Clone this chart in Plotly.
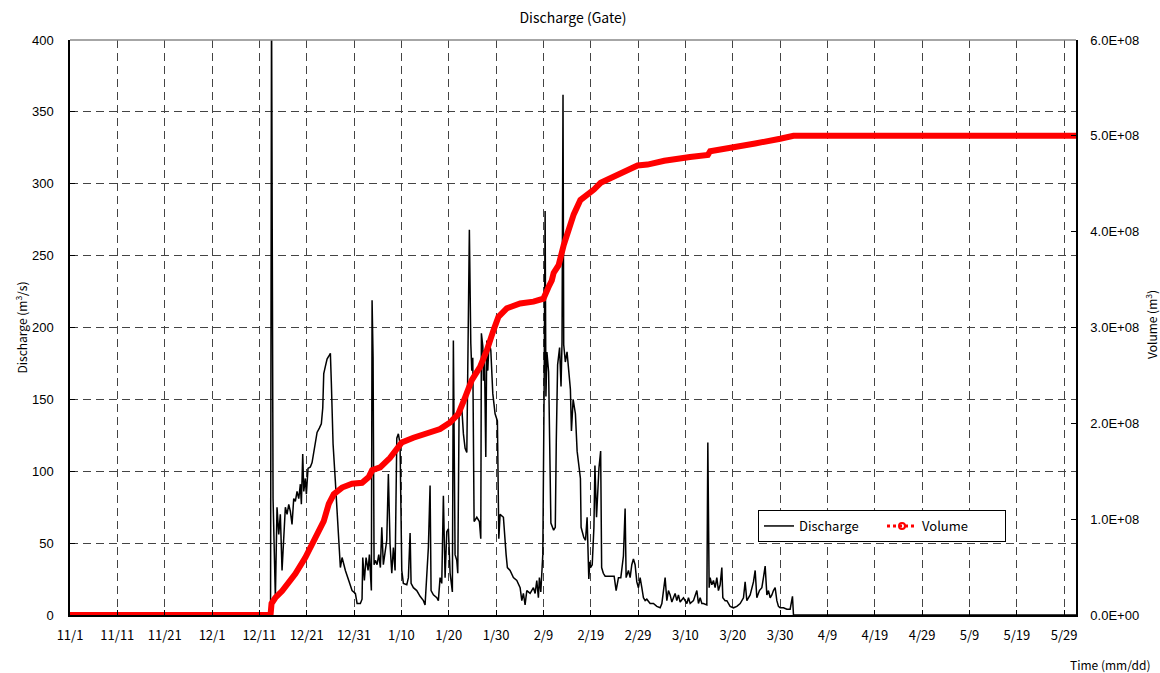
import pandas as pd
import plotly.graph_objects as go

# ---------------- data ----------------
start_date = "2023-11-01"

# discharge (m3/s) : days after 11/1 and value
discharge_days = [
    0.0, 42.36, 42.57, 42.78, 42.89, 43.38, 43.73, 44.09, 44.43, 44.79, 45.15, 45.49, 45.85, 46.21,
    46.55, 46.90, 47.26, 47.60, 47.96, 48.32, 48.66, 48.87, 49.16, 49.38, 49.71, 49.93, 50.28, 50.77,
    51.13, 51.70, 52.19, 52.67, 53.09, 53.39, 53.60, 53.94, 54.30, 54.66, 55.00, 55.21, 55.57, 56.05,
    56.77, 57.11, 57.47, 58.17, 58.88, 59.58, 60.28, 60.64, 61.33, 61.69, 61.84, 62.18, 62.54, 62.96,
    63.24, 63.66, 63.81, 64.02, 64.23, 64.50, 64.86, 65.22, 65.56, 65.86, 66.19, 66.91, 67.25, 67.61,
    67.97, 68.31, 68.67, 69.03, 69.36, 69.72, 70.08, 70.42, 71.14, 71.48, 71.84, 72.05, 72.53, 73.25,
    73.95, 74.65, 75.00, 75.36, 75.70, 76.06, 76.27, 76.76, 77.48, 77.81, 78.17, 78.53, 78.87, 79.23,
    79.59, 79.93, 80.29, 80.77, 80.98, 81.34, 81.70, 81.91, 82.19, 82.55, 82.76, 83.10, 83.46, 83.82,
    84.15, 84.36, 84.66, 84.87, 85.08, 85.36, 85.93, 86.48, 86.77, 86.90, 87.20, 87.32, 87.53, 87.83,
    88.04, 88.25, 88.53, 88.89, 89.31, 89.79, 90.28, 90.58, 90.85, 91.55, 92.12, 92.39, 92.96, 93.66,
    94.38, 95.08, 95.44, 95.77, 96.13, 96.49, 97.19, 97.89, 98.25, 98.60, 98.94, 99.15, 99.45, 99.87,
    100.15, 100.36, 100.53, 100.74, 101.10, 101.31, 101.58, 102.16, 102.51, 102.72, 103.00, 103.42,
    103.72, 103.93, 104.14, 104.29, 104.63, 104.99, 105.34, 105.70, 105.92, 106.28, 106.76, 107.12,
    107.82, 107.96, 108.53, 108.89, 109.23, 109.59, 109.80, 109.95, 110.31, 110.67, 110.88, 111.22,
    111.73, 112.09, 112.30, 112.65, 113.04, 114.09, 114.94, 115.36, 115.85, 116.35, 116.90, 117.26,
    117.47, 117.96, 118.32, 118.67, 119.01, 119.37, 119.73, 120.07, 120.43, 120.79, 121.13, 121.49,
    121.84, 122.54, 123.24, 123.96, 124.66, 125.02, 125.35, 125.71, 126.07, 126.41, 126.77, 127.13,
    127.47, 127.82, 128.18, 128.52, 128.88, 129.58, 130.30, 130.64, 131.00, 131.69, 132.41, 132.75,
    133.11, 133.47, 133.80, 134.52, 134.73, 135.01, 135.22, 135.58, 135.92, 136.27, 136.63, 136.97,
    137.33, 137.69, 137.90, 138.39, 138.75, 139.09, 139.44, 140.14, 140.86, 141.56, 142.26, 142.61,
    142.97, 143.67, 144.37, 144.73, 145.08, 145.63, 146.14, 146.48, 146.84, 147.20, 147.54, 147.90,
    148.26, 148.59, 148.95, 149.31, 149.65, 150.01, 150.71, 151.43, 152.12, 152.61, 152.82, 212.5,
]
discharge_q = [
    0, 0, 430, 82, 81, 12, 75, 56, 70, 31, 56, 75, 70, 77,
    72, 63, 81, 79, 86, 81, 91, 77, 112, 86, 95, 84, 102, 103,
    106, 119, 127, 130, 133, 144, 168, 173, 178, 180, 182, 161, 119, 93,
    56, 33, 40, 31, 24, 17, 15, 8, 8, 11, 40, 24, 40, 31,
    42, 17, 219, 179, 35, 38, 35, 42, 33, 61, 35, 52, 98, 49,
    29, 47, 31, 123, 126, 119, 31, 22, 21, 26, 57, 22, 19, 17,
    13, 10, 7, 33, 47, 90, 17, 14, 12, 10, 26, 22, 83, 26,
    58, 60, 29, 16, 191, 42, 38, 29, 142, 140, 144, 126, 116, 113,
    191, 268, 189, 170, 179, 65, 68, 65, 53, 196, 187, 163, 184, 110,
    191, 170, 191, 184, 154, 140, 135, 53, 70, 68, 42, 33, 31, 26,
    24, 19, 10, 15, 7, 17, 15, 19, 15, 24, 12, 26, 16, 42,
    156, 281, 152, 183, 169, 133, 64, 59, 61, 121, 174, 186,
    159, 190, 362, 188, 176, 183, 167, 157, 128, 150, 140, 114,
    95, 61, 54, 52, 68, 25, 37, 33, 35, 61, 104, 68,
    102, 114, 33, 29, 27, 27, 27, 17, 26, 26, 41, 74,
    26, 31, 26, 35, 39, 35, 23, 19, 26, 19, 12, 10,
    11, 8, 8, 6, 5, 8, 17, 26, 10, 17, 14, 9,
    12, 15, 10, 14, 9, 12, 8, 12, 8, 10, 17, 8,
    12, 8, 8, 7, 120, 19, 26, 21, 24, 19, 26, 17,
    21, 33, 12, 10, 10, 8, 6, 5, 6, 8, 12, 23,
    10, 14, 23, 31, 12, 17, 19, 26, 34, 14, 17, 12,
    14, 17, 19, 10, 6, 5, 5, 4, 4, 13, 0, 0,
]

# cumulative volume (m3)
volume_days = [
    0.0, 42.36, 42.57, 43.38, 44.79, 47.60, 49.71, 51.84, 53.60, 54.66, 55.71, 57.47, 59.58, 61.69,
    63.10, 63.81, 65.52, 67.61, 69.36, 70.08, 72.53, 75.36, 78.17, 80.29, 82.05, 83.46, 84.87, 86.62,
    88.04, 89.44, 90.49, 92.26, 95.08, 97.89, 100.00, 101.06, 101.77, 102.16, 103.21, 104.29, 105.34,
    106.40, 107.81, 109.23, 110.67, 112.09, 114.20, 117.05, 119.88, 121.99, 125.54, 130.96, 134.73,
    135.22, 139.44, 144.73, 150.01, 152.82, 212.5,
]
volume_m3 = [
    0, 0, 0.12e8, 0.18e8, 0.25e8, 0.43e8, 0.60e8, 0.81e8, 0.98e8, 1.16e8, 1.26e8, 1.33e8, 1.37e8, 1.38e8,
    1.44e8, 1.51e8, 1.54e8, 1.64e8, 1.75e8, 1.80e8, 1.85e8, 1.89e8, 1.94e8, 2.01e8, 2.10e8, 2.27e8, 2.45e8, 2.59e8,
    2.76e8, 2.97e8, 3.11e8, 3.20e8, 3.25e8, 3.27e8, 3.30e8, 3.42e8, 3.49e8, 3.57e8, 3.65e8, 3.86e8, 4.04e8,
    4.18e8, 4.33e8, 4.38e8, 4.44e8, 4.51e8, 4.56e8, 4.63e8, 4.69e8, 4.70e8, 4.74e8, 4.78e8, 4.80e8,
    4.84e8, 4.87e8, 4.92e8, 4.97e8, 5.00e8, 5.00e8,
]

left_tick_values = [0, 50, 100, 150, 200, 250, 300, 350, 400]
right_tick_values = [0, 1e8, 2e8, 3e8, 4e8, 5e8, 6e8]
right_tick_labels = ["0.0E+00", "1.0E+08", "2.0E+08", "3.0E+08", "4.0E+08", "5.0E+08", "6.0E+08"]
x_tick_step_days = 10
x_end_days = 212.5

# ---------------- figure ----------------
base = pd.Timestamp(start_date)
dis_x = base + pd.to_timedelta(discharge_days, unit="D")
vol_x = base + pd.to_timedelta(volume_days, unit="D")
x_end = base + pd.to_timedelta(x_end_days, unit="D")

JP = "Noto Sans CJK JP"
AR = "Liberation Sans, Arial"

W, H = 1160, 673
ML, MR, MT, MB = 70, 84, 40, 58
PW, PH = W - ML - MR, H - MT - MB

fig = go.Figure()
fig.add_trace(go.Scatter(x=dis_x, y=discharge_q, mode="lines", name="Discharge",
                         line=dict(color="black", width=1.5), yaxis="y"))
fig.add_trace(go.Scatter(x=vol_x, y=volume_m3, mode="lines", name="Volume", showlegend=False,
                         line=dict(color="#ff0000", width=6), yaxis="y2"))
fig.add_trace(go.Scatter(x=[None], y=[None], mode="lines+markers", name="Volume",
                         line=dict(color="#ff0000", width=3, dash="dot"),
                         marker=dict(symbol="circle-open", size=6, color="#ff0000", line=dict(width=2)),
                         yaxis="y2"))

grid = dict(showgrid=True, gridcolor="#444444", gridwidth=1, griddash="8px,5px")

fig.update_layout(
    width=W, height=H,
    margin=dict(l=ML, r=MR, t=MT, b=MB),
    paper_bgcolor="white", plot_bgcolor="white",
    title=dict(text="Discharge (Gate)", x=0.5, xref="paper", xanchor="center",
               y=1 - 18 / H, yanchor="middle", font=dict(family=JP, size=14, color="black")),
    xaxis=dict(type="date", range=[base, x_end], tickmode="linear", tick0=base,
               dtick=x_tick_step_days * 86400000, tickformat="%-m/%-d",
               ticks="inside", ticklen=5, tickcolor="black", ticklabelstandoff=8,
               showline=True, linecolor="black", linewidth=1.5, zeroline=False,
               tickfont=dict(family=JP, size=13, color="black"), **grid),
    yaxis=dict(range=[0, 400], tickmode="array", tickvals=left_tick_values,
               ticks="inside", ticklen=5, tickcolor="black", ticklabelstandoff=12,
               showline=True, linecolor="black", linewidth=1.5, zeroline=False,
               tickfont=dict(family=AR, size=13, color="black"), **grid),
    yaxis2=dict(range=[0, 6e8], overlaying="y", side="right", tickmode="array",
                tickvals=right_tick_values, ticktext=right_tick_labels,
                ticks="inside", ticklen=5, tickcolor="black", ticklabelstandoff=10,
                showline=True, linecolor="black", linewidth=1.5, zeroline=False, showgrid=False,
                tickfont=dict(family=AR, size=13, color="black")),
    legend=dict(orientation="h", x=(758 - ML) / PW, y=(PH + MT - 510) / PH, xanchor="left", yanchor="top",
                bgcolor="white", bordercolor="black", borderwidth=1,
                font=dict(family=JP, size=13, color="black"), entrywidth=78),
    shapes=[dict(type="line", xref="paper", yref="paper", x0=0, x1=1, y0=1, y1=1,
                 line=dict(color="#888888", width=1.5))],
    annotations=[
        dict(text="Discharge (m<sup>3</sup>/s)", xref="paper", yref="paper", x=(20 - ML) / PW,
             y=0.5, textangle=-90, showarrow=False, xanchor="center", yanchor="middle",
             font=dict(family=JP, size=12, color="black")),
        dict(text="Volume (m<sup>3</sup>)", xref="paper", yref="paper", x=1 + (1151 - (W - MR)) / PW,
             y=(PH + MT - 325) / PH, textangle=-90, showarrow=False, xanchor="center", yanchor="middle",
             font=dict(family=JP, size=12, color="black")),
        dict(text="Time (mm/dd)", xref="paper", yref="paper", x=(1152 - ML) / PW,
             y=-(664 - (PH + MT)) / PH, showarrow=False, xanchor="right", yanchor="middle",
             font=dict(family=JP, size=12, color="black")),
    ],
)

fig.write_html(
    "out.html",
    config={"displayModeBar": False},
    post_script="document.body.style.margin='0';document.body.style.overflow='hidden';",
)
